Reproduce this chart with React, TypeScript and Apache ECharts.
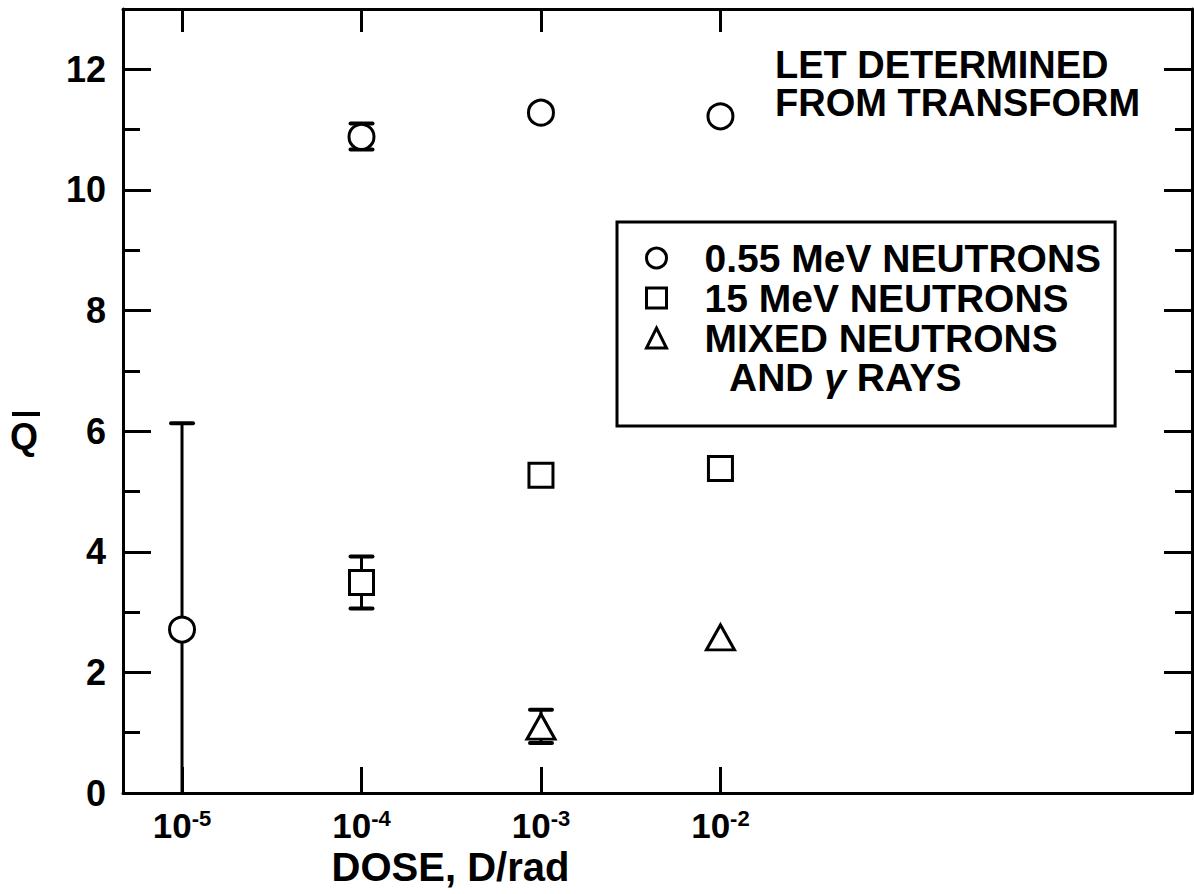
import React, { useEffect, useRef } from 'react';
import * as echarts from 'echarts';

const FONT = "'Liberation Sans', Arial, Helvetica, sans-serif";

// ---- data ----
const seriesNames = ['0.55 MeV NEUTRONS', '15 MeV NEUTRONS', 'MIXED NEUTRONS'];
const legendSecondLine = ['AND ', 'γ', ' RAYS'];
const titleLines = ['LET DETERMINED', 'FROM TRANSFORM'];
const xAxisTitle = 'DOSE, D/rad';
const yAxisTitle = 'Q';

const dose055 = [1e-5, 1e-4, 1e-3, 1e-2];
const q055 = [2.71, 10.88, 11.28, 11.22];
const dose15 = [1e-4, 1e-3, 1e-2];
const q15 = [3.49, 5.27, 5.38];
const doseMixed = [1e-3, 1e-2];
const qMixed = [1.1, 2.58];

// error bars: dose, low, high
const errDose = [1e-5, 1e-4, 1e-4, 1e-3];
const errLow = [0, 10.67, 3.06, 0.83];
const errHigh = [6.13, 11.1, 3.92, 1.38];

const xTicks = [1e-5, 1e-4, 1e-3, 1e-2];
const xMin = 4.69e-6;
const xMax = 4.24;
const yMajor = [0, 2, 4, 6, 8, 10, 12];
const yMinor = [1, 3, 5, 7, 9, 11];
const yMin = 0;
const yMax = 13;

export default function App() {
  const ref = useRef<HTMLDivElement>(null);
  useEffect(() => {
    if (!ref.current) return;
    const chart = echarts.init(ref.current, undefined, { renderer: 'svg' });
    const black = '#000';
    const gridBox = { left: 123, right: 2, top: 9, bottom: 101 };

    const yBase = (pos: string, ticks: number[], len: number, showLine: boolean, showLabel: boolean, grid: number) => ({
      type: 'value',
      gridIndex: grid,
      position: pos,
      min: yMin,
      max: yMax,
      splitLine: { show: false },
      axisLine: { show: showLine, lineStyle: { color: black, width: 3 } },
      axisTick: { show: true, inside: true, length: len, customValues: ticks, lineStyle: { color: black, width: 3 } },
      axisLabel: {
        show: showLabel,
        customValues: ticks,
        margin: 17,
        color: black,
        fontFamily: FONT,
        fontWeight: 'bold',
        fontSize: 36,
      },
    });

    const xBase = (pos: string, len: number, showLabel: boolean) => ({
      type: 'log',
      logBase: 10,
      gridIndex: 0,
      position: pos,
      min: xMin,
      max: xMax,
      splitLine: { show: false },
      minorTick: { show: false },
      axisLine: { show: true, onZero: false, lineStyle: { color: black, width: 3 } },
      axisTick: { show: true, inside: true, length: len, customValues: xTicks, lineStyle: { color: black, width: 3 } },
      axisLabel: {
        show: showLabel,
        customValues: xTicks,
        margin: 14,
        color: black,
        fontFamily: FONT,
        fontWeight: 'bold',
        fontSize: 34,
        formatter: (v: number) => '{b|10}{s|' + Math.round(Math.log10(v)) + '}',
        rich: {
          b: { fontFamily: FONT, fontWeight: 'bold', fontSize: 35, color: black, lineHeight: 36 },
          s: { fontFamily: FONT, fontWeight: 'bold', fontSize: 22, color: black, verticalAlign: 'top', lineHeight: 22 },
        },
      },
    });

    const errData = errDose.map((d, i) => [d, errLow[i], errHigh[i]]);

    const symbolStyle = { color: '#fff', borderColor: black, borderWidth: 3, opacity: 1 };

    chart.setOption({
      animation: false,
      backgroundColor: '#fff',
      title: {
        text: titleLines.join('\n'),
        left: 770,
        top: 41,
        textAlign: 'left',
        textStyle: { fontFamily: FONT, fontWeight: 'bold', fontSize: 38, lineHeight: 38, color: black },
      },
      legend: {
        orient: 'vertical',
        left: 617,
        top: 222,
        padding: [16, 14, 68, 28],
        itemGap: 0,
        itemWidth: 20,
        itemHeight: 20,
        selectedMode: false,
        borderColor: black,
        borderWidth: 3,
        data: seriesNames,
        itemStyle: { borderWidth: 3, borderColor: black, color: '#fff' },
        textStyle: {
          fontFamily: FONT,
          fontWeight: 'bold',
          fontSize: 39,
          lineHeight: 40,
          color: black,
          padding: [0, 0, 0, 33],
        },
      },
      grid: [
        { ...gridBox, containLabel: false },
        { ...gridBox, containLabel: false },
      ],
      xAxis: [
        {
          ...xBase('bottom', 26, true),
          name: xAxisTitle,
          nameLocation: 'middle',
          nameGap: 42,
          nameTextStyle: { fontFamily: FONT, fontWeight: 'bold', fontSize: 40, color: black, padding: [0, 414, 0, 0] },
        },
        xBase('top', 23, false),
        { type: 'value', gridIndex: 1, show: false, min: 0, max: 1 },
      ],
      yAxis: [
        yBase('left', yMajor, 28, true, true, 0),
        yBase('right', yMajor, 28, true, false, 0),
        yBase('left', yMinor, 17, false, false, 1),
        yBase('right', yMinor, 17, false, false, 1),
      ],
      graphic: [
        {
          type: 'group',
          left: 10,
          top: 412,
          children: [
            { type: 'rect', shape: { x: 2, y: 0, width: 28, height: 4 }, style: { fill: black } },
            {
              type: 'text',
              x: 0,
              y: 6,
              style: { text: yAxisTitle, fontFamily: FONT, fontWeight: 'bold', fontSize: 36, fill: black },
            },
          ],
        },
        {
          type: 'text',
          left: 729,
          top: 358,
          style: {
            text: '{t|' + legendSecondLine[0] + '}{g|' + legendSecondLine[1] + '}{t|' + legendSecondLine[2] + '}',
            rich: {
              t: { fontFamily: FONT, fontWeight: 'bold', fontSize: 39, lineHeight: 40, fill: black },
              g: { fontFamily: FONT, fontWeight: 'bold', fontStyle: 'italic', fontSize: 39, lineHeight: 40, fill: black },
            },
          },
        },
      ],
      series: [
        {
          type: 'custom',
          name: 'errors',
          xAxisIndex: 0,
          yAxisIndex: 0,
          z: 2,
          encode: { x: 0, y: [1, 2] },
          data: errData,
          renderItem: (params: any, api: any) => {
            const x = api.value(0);
            const lowVal = api.value(1);
            const lo = api.coord([x, lowVal]);
            const hi = api.coord([x, api.value(2)]);
            const hw = 11;
            const children: any[] = [
              { type: 'line', shape: { x1: lo[0], y1: lo[1], x2: hi[0], y2: hi[1] }, style: { stroke: black, lineWidth: 3 } },
              { type: 'line', shape: { x1: hi[0] - hw, y1: hi[1], x2: hi[0] + hw, y2: hi[1] }, style: { stroke: black, lineWidth: 4, lineCap: 'round' } },
            ];
            if (lowVal > yMin) {
              children.push({ type: 'line', shape: { x1: lo[0] - hw, y1: lo[1], x2: lo[0] + hw, y2: lo[1] }, style: { stroke: black, lineWidth: 4, lineCap: 'round' } });
            }
            return { type: 'group', children };
          },
        },
        {
          type: 'scatter',
          name: seriesNames[0],
          z: 5,
          symbol: 'circle',
          symbolSize: 25,
          itemStyle: symbolStyle,
          data: dose055.map((d, i) => [d, q055[i]]),
        },
        {
          type: 'scatter',
          name: seriesNames[1],
          z: 5,
          symbol: 'rect',
          symbolSize: 24,
          itemStyle: symbolStyle,
          data: dose15.map((d, i) => [d, q15[i]]),
        },
        {
          type: 'scatter',
          name: seriesNames[2],
          z: 5,
          symbol: 'triangle',
          symbolSize: [28, 25],
          itemStyle: symbolStyle,
          data: doseMixed.map((d, i) => [d, qMixed[i]]),
        },
      ],
    });
    return () => chart.dispose();
  }, []);
  return <div ref={ref} style={{ position: 'absolute', left: 0, top: 0, width: 1194, height: 894 }} />;
}
